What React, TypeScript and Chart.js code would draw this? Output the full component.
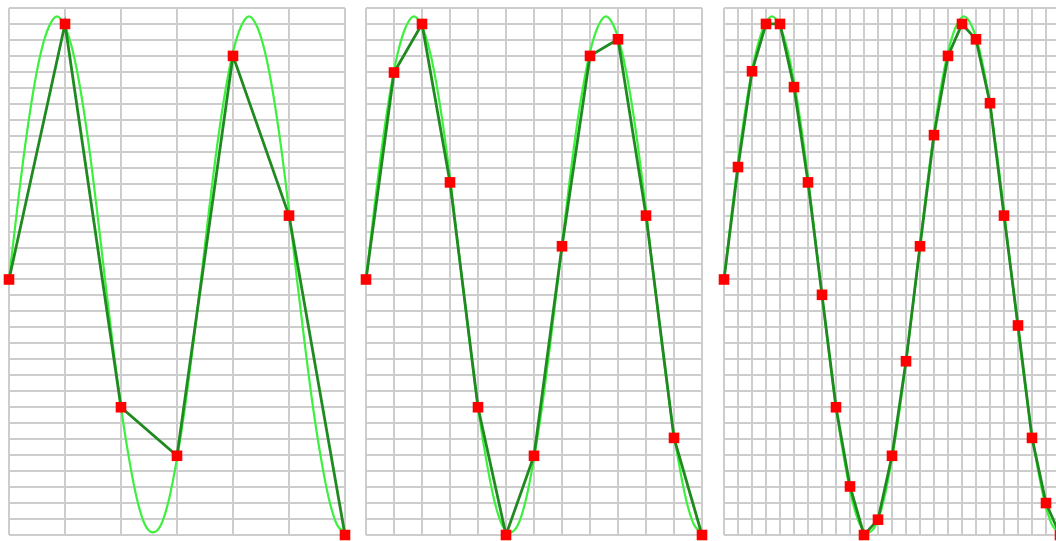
import React, { useEffect, useRef } from "react";
import { Chart, registerables } from "chart.js";

Chart.register(...registerables);

// Phase (degrees) of the continuous wave and its values
const curvePhase = [
  0, 15, 30, 45, 60, 75, 90, 105, 120, 135, 150, 165, 180, 195, 210, 225, 240, 255, 270, 285, 300,
  315, 330, 345, 360, 375, 390, 405, 420, 435, 450, 465, 480, 495, 510, 525, 540, 555, 570, 585, 600,
  615, 630,
];
const curveValues = [
  0, 0.27, 0.52, 0.73, 0.89, 0.99, 1.03, 0.99, 0.89, 0.73, 0.52, 0.27, 0, -0.26, -0.5, -0.7, -0.86,
  -0.96, -0.99, -0.96, -0.86, -0.7, -0.5, -0.26, 0, 0.27, 0.52, 0.73, 0.89, 0.99, 1.03, 0.99, 0.89,
  0.73, 0.52, 0.27, 0, -0.26, -0.5, -0.7, -0.86, -0.96, -0.99,
];

// Panel 1: 7 samples
const samplePhase1 = [0, 105, 210, 315, 420, 525, 630];
const sampleValues1 = [0, 1.0, -0.5, -0.69, 0.875, 0.25, -1.0];

// Panel 2: 13 samples
const samplePhase2 = [0, 52.5, 105, 157.5, 210, 262.5, 315, 367.5, 420, 472.5, 525, 577.5, 630];
const sampleValues2 = [0, 0.81, 1.0, 0.38, -0.5, -1.0, -0.69, 0.13, 0.875, 0.94, 0.25, -0.62, -1.0];

// Panel 3: 25 samples
const samplePhase3 = [
  0, 26.25, 52.5, 78.75, 105, 131.25, 157.5, 183.75, 210, 236.25, 262.5, 288.75, 315, 341.25, 367.5,
  393.75, 420, 446.25, 472.5, 498.75, 525, 551.25, 577.5, 603.75, 630,
];
const sampleValues3 = [
  0, 0.44, 0.815, 1.0, 1.0, 0.753, 0.38, -0.06, -0.5, -0.81, -1.0, -0.94, -0.69, -0.32, 0.13, 0.565,
  0.875, 1.0, 0.94, 0.69, 0.25, -0.18, -0.62, -0.875, -1.0,
];

// Horizontal grid lines (value axis)
const yGrid = [
  -1, -0.9375, -0.875, -0.8125, -0.75, -0.6875, -0.625, -0.5625, -0.5, -0.4375, -0.375, -0.3125,
  -0.25, -0.1875, -0.125, -0.0625, 0, 0.0625, 0.125, 0.1875, 0.25, 0.3125, 0.375, 0.4375, 0.5,
  0.5625, 0.625, 0.6875, 0.75, 0.8125, 0.875, 0.9375, 1, 1.0625,
];

const PANEL_LEFTS = [9, 366, 724];
const PAD_L = 12;
const PAD_R = 12;
const PAD_T = 8;
const PAD_B = 25;
const AREA_W = 336;
const CANVAS_H = 560;

const LIGHT = "#3df03d";
const DARK = "#1f8a1f";
const GRID = "#cdcdcd";

type PanelProps = { left: number; phases: number[]; values: number[] };

function Panel({ left, phases, values }: PanelProps) {
  const ref = useRef<HTMLCanvasElement | null>(null);
  useEffect(() => {
    if (!ref.current) return;
    const samples = phases.map((x, i) => ({ x, y: values[i] }));
    const curve = curvePhase.map((x, i) => ({ x, y: curveValues[i] }));
    const chart = new Chart(ref.current, {
      type: "line",
      data: {
        datasets: [
          {
            data: samples,
            borderColor: DARK,
            borderWidth: 2.8,
            pointStyle: "rect",
            pointRadius: 7.5,
            pointHoverRadius: 7.5,
            pointBackgroundColor: "#ff0000",
            pointBorderWidth: 0,
            tension: 0,
            clip: false,
            order: 0,
          } as any,
          {
            data: curve,
            borderColor: LIGHT,
            borderWidth: 2.2,
            pointRadius: 0,
            pointHoverRadius: 0,
            cubicInterpolationMode: "monotone",
            clip: false,
            order: 1,
          } as any,
        ],
      },
      options: {
        animation: false,
        responsive: false,
        events: [],
        layout: {
          padding: { left: PAD_L, right: PAD_R, top: PAD_T, bottom: PAD_B },
          autoPadding: false,
        },
        plugins: { legend: { display: false }, tooltip: { enabled: false } },
        scales: {
          x: {
            type: "linear",
            min: 0,
            max: 630,
            afterBuildTicks: (s: any) => {
              s.ticks = phases.map((v) => ({ value: v }));
            },
            ticks: { display: false },
            grid: { color: GRID, lineWidth: 2, drawTicks: false },
            border: { display: false },
          },
          y: {
            type: "linear",
            min: -1,
            max: 1.0625,
            afterBuildTicks: (s: any) => {
              s.ticks = yGrid.map((v) => ({ value: v }));
            },
            ticks: { display: false },
            grid: { color: GRID, lineWidth: 2, drawTicks: false },
            border: { display: false },
          },
        },
      } as any,
    });
    return () => chart.destroy();
  }, [phases, values]);

  const w = AREA_W + PAD_L + PAD_R;
  return (
    <canvas
      ref={ref}
      width={w}
      height={CANVAS_H}
      style={{ position: "absolute", left: left - PAD_L, top: 0, width: w, height: CANVAS_H }}
    />
  );
}

export default function App() {
  return (
    <div
      style={{
        position: "fixed",
        left: 0,
        top: 0,
        width: 1056,
        height: 541,
        overflow: "hidden",
        background: "#ffffff",
      }}
    >
      <Panel left={PANEL_LEFTS[0]} phases={samplePhase1} values={sampleValues1} />
      <Panel left={PANEL_LEFTS[1]} phases={samplePhase2} values={sampleValues2} />
      <Panel left={PANEL_LEFTS[2]} phases={samplePhase3} values={sampleValues3} />
    </div>
  );
}
